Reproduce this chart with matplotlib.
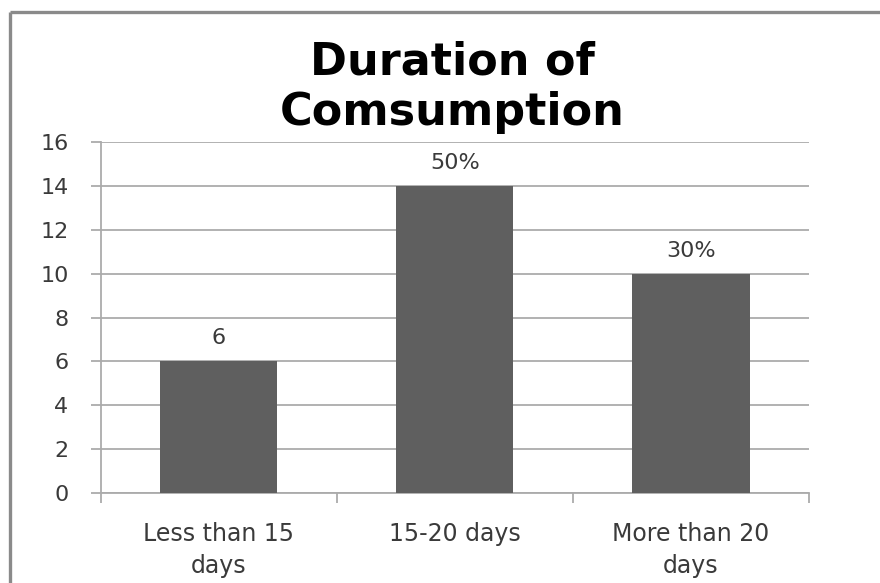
import matplotlib
matplotlib.use("Agg")
import matplotlib.pyplot as plt
from matplotlib.lines import Line2D

categories = ["Less than 15\ndays", "15-20 days", "More than 20\ndays"]
values = [6, 14, 10]
bar_labels = ["6", "50%", "30%"]
y_ticks = [0, 2, 4, 6, 8, 10, 12, 14, 16]

W, H, DPI = 880, 583, 100
fig = plt.figure(figsize=(W / DPI, H / DPI), dpi=DPI)
fig.patch.set_facecolor("white")

# plot area in pixel coordinates
left, right, bottom, top = 100.7, 809, 493, 142
ax = fig.add_axes([left / W, 1 - bottom / H, (right - left) / W, (bottom - top) / H])

text_color = "#3a3a3a"
grid_color = "#ababab"
bar_color = "#5f5f5f"

x = list(range(len(categories)))
bars = ax.bar(x, values, width=0.496, color=bar_color, zorder=3)

ax.set_xlim(-0.5, len(categories) - 0.5)
ax.set_ylim(0, 16)
ax.set_yticks(y_ticks)
ax.set_yticklabels([str(t) for t in y_ticks])
ax.yaxis.grid(True, color=grid_color, linewidth=1.3, zorder=0)
ax.set_axisbelow(True)

# category labels on the major ticks, boundary tick marks on minor ticks
ax.set_xticks(x)
ax.set_xticklabels(categories, linespacing=1.4)
ax.set_xticks([i - 0.5 for i in range(len(categories) + 1)], minor=True)
ax.tick_params(axis="x", which="major", length=0, pad=21,
               labelsize=17, labelcolor=text_color)
ax.tick_params(axis="x", which="minor", length=7, width=1.3, color=grid_color)
ax.tick_params(axis="y", which="major", length=7.2, width=1.3, color=grid_color,
               pad=16, labelsize=16, labelcolor=text_color)

for side in ("top", "right"):
    ax.spines[side].set_visible(False)
for side in ("left", "bottom"):
    ax.spines[side].set_color(grid_color)
    ax.spines[side].set_linewidth(1.3)

for rect, lab in zip(bars, bar_labels):
    ax.annotate(lab, (rect.get_x() + rect.get_width() / 2, rect.get_height()),
                xytext=(0, 16.5), textcoords="offset points",
                ha="center", va="center", fontsize=16, color=text_color)

fig.text(452 / W, 1 - 87 / H, "Duration of\nComsumption", ha="center", va="center",
         fontsize=32, fontweight="bold", color="black", linespacing=1.22)

# chart frame (left and top edges)
fig.add_artist(Line2D([10 / W, 10 / W], [0, 1 - 12 / H], transform=fig.transFigure,
                      color="#8a8a8a", linewidth=2.4, solid_capstyle="butt"))
fig.add_artist(Line2D([10 / W, 1], [1 - 12 / H, 1 - 12 / H], transform=fig.transFigure,
                      color="#8a8a8a", linewidth=2.4, solid_capstyle="butt"))

fig.savefig("out.png", dpi=DPI, facecolor="white")
